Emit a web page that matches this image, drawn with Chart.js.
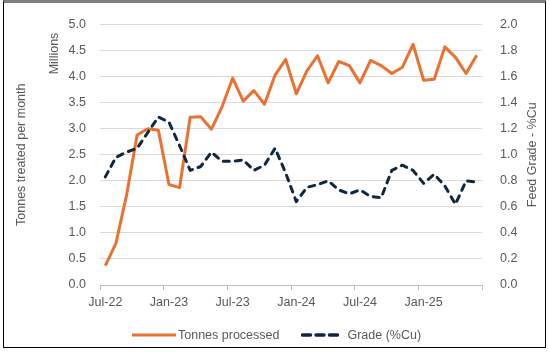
<!DOCTYPE html>
<html>
<head>
<meta charset="utf-8">
<script src="https://cdn.jsdelivr.net/npm/chart.js@4"></script>
<style>
    body { margin: 0; background: #fff; font-family: "Liberation Sans", Arial, sans-serif; }
    .frame {
        position: absolute; left: 3px; top: 0;
        width: 541px; height: 344px;
        border-top: 3px solid #7f7f7f;
        border-left: 1px solid #000;
        border-right: 1px solid #000;
        border-bottom: 1px solid #000;
    }
    .chart-legend {
        position: absolute; left: 132px; top: 327px; height: 16px;
        display: flex; align-items: center;
        font-size: 12.5px; color: #595959;
    }
    .chart-legend svg { display: block; }
    .chart-legend span { margin-left: 2px; }
</style>
</head>
<body>
<div class="frame">
    <canvas id="tonnes-chart" width="541" height="344"></canvas>
</div>
<div class="chart-legend" id="tonnes-legend"></div>

<script>
// ==== data ====
const months = [
    'Jul-22', 'Aug-22', 'Sep-22', 'Oct-22', 'Nov-22', 'Dec-22',
    'Jan-23', 'Feb-23', 'Mar-23', 'Apr-23', 'May-23', 'Jun-23',
    'Jul-23', 'Aug-23', 'Sep-23', 'Oct-23', 'Nov-23', 'Dec-23',
    'Jan-24', 'Feb-24', 'Mar-24', 'Apr-24', 'May-24', 'Jun-24',
    'Jul-24', 'Aug-24', 'Sep-24', 'Oct-24', 'Nov-24', 'Dec-24',
    'Jan-25', 'Feb-25', 'Mar-25', 'Apr-25', 'May-25', 'Jun-25'
];

// millions of tonnes
const tonnesProcessed = [
    0.37, 0.80, 1.72, 2.88, 3.00, 2.97,
    1.93, 1.87, 3.22, 3.23, 2.99, 3.42,
    3.97, 3.53, 3.73, 3.47, 4.03, 4.33,
    3.67, 4.11, 4.40, 3.88, 4.29, 4.21,
    3.88, 4.31, 4.21, 4.06, 4.18, 4.62,
    3.93, 3.95, 4.57, 4.37, 4.06, 4.41
];

// %Cu
const gradeCu = [
    0.83, 0.98, 1.02, 1.05, 1.17, 1.29,
    1.25, 1.07, 0.88, 0.91, 1.02, 0.95,
    0.95, 0.96, 0.88, 0.92, 1.05, 0.86,
    0.64, 0.75, 0.77, 0.80, 0.73, 0.70,
    0.73, 0.68, 0.67, 0.88, 0.92, 0.88,
    0.78, 0.85, 0.76, 0.62, 0.80, 0.79
];

const seriesNames = ['Tonnes processed', 'Grade (%Cu)'];
const ORANGE = '#E97132';
const NAVY = '#0E2841';
const TEXT = '#595959';
const FONT = '"Liberation Sans", Arial, sans-serif';

// titles that Chart.js can't place the way Excel does
const axisText = {
    id: 'axisText',
    afterDraw(chart) {
        const { ctx, chartArea } = chart;
        ctx.save();
        ctx.font = `12.5px ${FONT}`;
        ctx.fillStyle = TEXT;
        ctx.textAlign = 'center';
        ctx.textBaseline = 'middle';

        ctx.save();
        ctx.translate(chartArea.left - 45, chartArea.top + 29);
        ctx.rotate(-Math.PI / 2);
        ctx.fillText('Millions', 0, 0);
        ctx.restore();

        ctx.save();
        ctx.translate(chartArea.right + 51, (chartArea.top + chartArea.bottom) / 2);
        ctx.rotate(-Math.PI / 2);
        ctx.fillText('Feed Grade - %Cu', 0, 0);
        ctx.restore();

        ctx.restore();
    }
};

new Chart(document.getElementById('tonnes-chart'), {
    type: 'line',
    data: {
        labels: months,
        datasets: [
            {
                label: seriesNames[0],
                data: tonnesProcessed,
                yAxisID: 'y',
                borderColor: ORANGE,
                borderWidth: 3,
                borderJoinStyle: 'round',
                pointRadius: 0,
                tension: 0,
                order: 1,
            },
            {
                label: seriesNames[1],
                data: gradeCu,
                yAxisID: 'y1',
                borderColor: NAVY,
                borderWidth: 3,
                borderDash: [6, 6],
                borderCapStyle: 'round',
                borderJoinStyle: 'round',
                pointRadius: 0,
                tension: 0,
                order: 0,
            }
        ]
    },
    options: {
        responsive: false,
        animation: false,
        layout: { padding: { top: 13, left: 0, right: 0, bottom: 32 } },
        plugins: {
            legend: { display: false },
            tooltip: { enabled: false }
        },
        scales: {
            x: {
                offset: true,
                afterFit: s => { s.height = 30; },
                grid: {
                    offset: true,
                    drawOnChartArea: false,
                    tickLength: 5,
                    color: ctx => (ctx.type !== 'tick' || ctx.index % 6 === 0) ? '#bfbfbf' : 'rgba(0,0,0,0)',
                },
                border: { display: true, color: '#bfbfbf' },
                ticks: {
                    autoSkip: false,
                    maxRotation: 0,
                    minRotation: 0,
                    padding: 5,
                    color: TEXT,
                    font: { family: FONT, size: 12.5 },
                    callback: (v, i) => i % 6 === 0 ? months[i] : ''
                }
            },
            y: {
                position: 'left',
                min: 0,
                max: 5,
                afterFit: s => { s.width = 96; },
                grid: { color: '#d9d9d9', drawTicks: false },
                border: { display: false },
                ticks: {
                    stepSize: 0.5,
                    padding: 14,
                    color: TEXT,
                    font: { family: FONT, size: 12.5 },
                    callback: v => v.toFixed(1)
                },
                title: {
                    display: true,
                    text: 'Tonnes treated per month',
                    color: TEXT,
                    font: { family: FONT, size: 12.5 },
                    padding: { top: 10, bottom: 0 }
                }
            },
            y1: {
                position: 'right',
                min: 0,
                max: 2,
                afterFit: s => { s.width = 63; },
                grid: { display: false },
                border: { display: false },
                ticks: {
                    stepSize: 0.2,
                    padding: 10,
                    color: TEXT,
                    font: { family: FONT, size: 12.5 },
                    callback: v => v.toFixed(1)
                }
            }
        }
    },
    plugins: [axisText]
});

// manual legend
const legendEl = document.getElementById('tonnes-legend');
legendEl.innerHTML = `
    <svg width="44" height="8"><line x1="0" y1="4" x2="44" y2="4" stroke="${ORANGE}" stroke-width="3"/></svg>
    <span>${seriesNames[0]}</span>
    <svg width="44" height="8" style="margin-left:22px"><line x1="1.5" y1="4" x2="38" y2="4" stroke="${NAVY}" stroke-width="3.5" stroke-linecap="round" stroke-dasharray="8 5.5"/></svg>
    <span>${seriesNames[1]}</span>`;
</script>
</body>
</html>
